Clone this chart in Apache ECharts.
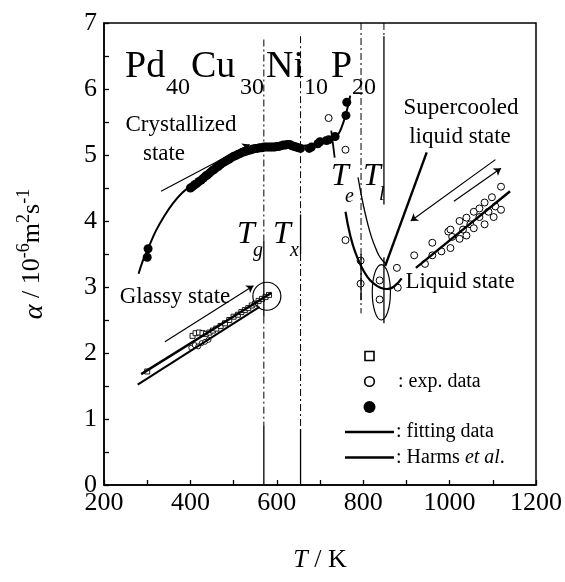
<!DOCTYPE html>
<html><head><meta charset="utf-8">
<script src="https://cdn.jsdelivr.net/npm/echarts@6/dist/echarts.min.js"></script>
<style>html,body{margin:0;padding:0;background:#fff}#c{width:565px;height:582px}</style>
</head><body><div id="c"></div>
<script>
// ---------- data ----------
const xTicks = [200, 400, 600, 800, 1000, 1200];
const yTicks = [0, 1, 2, 3, 4, 5, 6, 7];

// transition temperatures (K)
const Tg = 570, Tx = 655, Te = 795, Tl = 848;

// glassy state exp. data (open squares, open circles)
const glassySquares = [[300,1.72],[405,2.26],[412,2.30],[420,2.31],[428,2.30],[436,2.29],[444,2.31],[452,2.34],[460,2.37],[470,2.41],[480,2.45],[490,2.50],[500,2.55],[510,2.58],[518,2.62],[526,2.65],[534,2.68],[542,2.72],[550,2.75],[558,2.79],[566,2.82],[574,2.85],[582,2.88]];
const glassyCircles = [[402,2.08],[410,2.12],[418,2.10],[426,2.15],[434,2.17],[442,2.20]];

// crystallized state exp. data (filled circles)
const crystT = [300,302,400,405,410,415,420,425,430,435,440,445,450,455,460,465,470,475,480,485,490,495,500,505,510,515,520,525,530,535,540,545,550,555,560,565,570,575,580,585,590,595,600,605,610,615,620,625,630,635,640,645,650,655,675,680,695,700,715,720,735,760,762];
const crystA = [3.45,3.58,4.50,4.52,4.55,4.57,4.60,4.62,4.65,4.68,4.70,4.73,4.76,4.78,4.81,4.83,4.86,4.88,4.90,4.92,4.94,4.96,4.98,4.99,5.01,5.02,5.04,5.05,5.06,5.07,5.08,5.09,5.10,5.10,5.11,5.11,5.12,5.12,5.12,5.12,5.12,5.12,5.13,5.13,5.14,5.15,5.15,5.16,5.16,5.14,5.13,5.12,5.11,5.10,5.10,5.12,5.17,5.20,5.22,5.23,5.28,5.60,5.80];

// liquid / supercooled exp. data (open circles)
const liquidCircles = [[720,5.56],[759,5.08],[759,3.71],[794,3.40],[794,3.05],[838,3.10],[838,2.81],[878,3.29],[880,2.99],[918,3.48],[943,3.35],[960,3.67],[960,3.48],[981,3.54],[997,3.84],[1002,3.87],[1002,3.59],[1006,3.76],[1023,4.00],[1023,3.73],[1031,3.87],[1039,4.05],[1039,3.78],[1048,3.95],[1056,4.14],[1056,3.89],[1069,4.19],[1069,4.06],[1081,4.28],[1081,3.95],[1090,4.14],[1098,4.36],[1102,4.06],[1106,4.22],[1119,4.52],[1119,4.17]];

// fitting curves
const crystFit = [[280,3.20],[290,3.40],[300,3.55],[320,3.85],[340,4.08],[360,4.27],[380,4.42],[400,4.53],[420,4.64],[450,4.78],[480,4.90],[510,5.00],[540,5.07],[570,5.11],[600,5.13],[630,5.14],[660,5.14],[690,5.17],[720,5.23],[740,5.30],[750,5.42],[760,5.62],[770,5.90]];
const crystMark = [[726,5.37],[734,4.96]];
const glassFitA = [[286,1.68],[587,2.91]];
const glassFitB = [[278,1.52],[560,2.70]];
const superFitA = [[759,4.14],[770,3.78],[782,3.52],[795,3.32],[810,3.15],[825,3.05],[840,2.99],[855,2.97],[870,3.00],[889,3.13]];
const superFitB = [[788,4.66],[800,4.25],[810,3.97],[820,3.74],[830,3.57],[840,3.44],[851,3.36]];
const superLine = [[851,3.32],[947,5.04]];
const liquidFit = [[922,3.29],[1140,4.45]];

// arrows (from -> to)
const arrows = [
  [[341,2.17],[546,3.02]],
  [[332,4.45],[537,5.16]],
  [[1106,4.93],[910,4.00]],
  [[1010,4.30],[1119,4.80]]
];

// vertical marker segments
const dashSegs = [[[Tg,6.75],[Tg,3.7]],[[Tg,2.55],[Tg,0.9]],[[Tx,6.8],[Tx,4.1]],[[Tx,3.5],[Tx,0.85]],[[Te,7],[Te,2.6]],[[Tl,7],[Tl,6.8]]];
const solidSegs = [[[Tg,3.7],[Tg,2.55]],[[Tg,0.9],[Tg,0]],[[Tx,4.1],[Tx,3.5]],[[Tx,0.85],[Tx,0]],[[Te,3.5],[Te,2.8]],[[Tl,6.8],[Tl,4.25]],[[Tl,3.45],[Tl,2.45]]];

// annotation shapes in data coords
const glassCircle = {c:[577,2.86]};
const liquidEllipse = {c:[842,2.92], dT:21, dA:0.42};

// ---------- chart ----------
const FONT = '"Liberation Serif","Times New Roman",serif';
const chart = echarts.init(document.getElementById('c'), null, {renderer:'canvas'});

function joinSegs(segs){ const out=[]; segs.forEach((s,i)=>{ if(i) out.push(null); out.push(s[0], s[1]); }); return out; }
function crystData(){ return crystT.map((t,i)=>[t,crystA[i]]); }

const lineBase = {type:'line', showSymbol:false, symbol:'none', silent:true, animation:false};

chart.setOption({
  animation:false,
  backgroundColor:'#fff',
  grid:{left:104, right:29, top:23, bottom:97, show:true, borderColor:'#000', borderWidth:1.5, backgroundColor:'transparent'},
  xAxis:{
    type:'value', min:200, max:1200, interval:200,
    axisLine:{show:true, onZero:false, lineStyle:{color:'#000', width:1.5}},
    axisTick:{show:true, inside:true, length:5, lineStyle:{color:'#000', width:1.3}},
    minorTick:{show:true, splitNumber:2, length:5, lineStyle:{color:'#000', width:1.3}},
    splitLine:{show:false},
    axisLabel:{color:'#000', fontSize:26, fontFamily:FONT, margin:5, formatter:v=>String(v)},
    name:'{i|T} / K', nameLocation:'middle', nameGap:62,
    nameTextStyle:{color:'#000', fontSize:26, fontFamily:FONT, rich:{i:{fontStyle:'italic', fontSize:26, fontFamily:FONT, color:'#000'}}}
  },
  yAxis:{
    type:'value', min:0, max:7, interval:1,
    axisLine:{show:true, onZero:false, lineStyle:{color:'#000', width:1.5}},
    axisTick:{show:true, inside:true, length:5, lineStyle:{color:'#000', width:1.3}},
    minorTick:{show:true, splitNumber:2, length:5, lineStyle:{color:'#000', width:1.3}},
    splitLine:{show:false},
    axisLabel:{color:'#000', fontSize:26, fontFamily:FONT, margin:7, formatter:v=>String(v)},
    name:'{a|α} / 10{s|-6}m{s|2}s{s|-1}', nameLocation:'middle', nameRotate:90, nameGap:55,
    nameTextStyle:{color:'#000', fontSize:26, fontFamily:FONT, lineHeight:34,
      rich:{a:{fontStyle:'italic', fontSize:28, fontFamily:FONT, color:'#000', lineHeight:34, verticalAlign:'bottom'},
            s:{fontSize:18, fontFamily:FONT, color:'#000', lineHeight:34, verticalAlign:'top'}}}
  },
  series:[
    Object.assign({}, lineBase, {name:'dash', data:joinSegs(dashSegs), connectNulls:false, lineStyle:{color:'#000', width:1, type:[7,3,2,3]}}),
    Object.assign({}, lineBase, {name:'solidV', data:joinSegs(solidSegs), connectNulls:false, lineStyle:{color:'#000', width:1.3}}),
    Object.assign({}, lineBase, {name:'crystFit', data:crystFit, smooth:0.4, lineStyle:{color:'#000', width:2}}),
    Object.assign({}, lineBase, {name:'crystMark', data:crystMark, lineStyle:{color:'#000', width:1.8}}),
    Object.assign({}, lineBase, {name:'glassFitA', data:glassFitA, lineStyle:{color:'#000', width:2.4}}),
    Object.assign({}, lineBase, {name:'glassFitB', data:glassFitB, lineStyle:{color:'#000', width:2}}),
    Object.assign({}, lineBase, {name:'superFitA', data:superFitA, smooth:0.5, lineStyle:{color:'#000', width:2.2}}),
    Object.assign({}, lineBase, {name:'superFitB', data:superFitB, smooth:0.5, lineStyle:{color:'#000', width:1.3}}),
    Object.assign({}, lineBase, {name:'superLine', data:superLine, lineStyle:{color:'#000', width:2.4}}),
    Object.assign({}, lineBase, {name:'liquidFit', data:liquidFit, lineStyle:{color:'#000', width:2.4}}),
    {type:'lines', coordinateSystem:'cartesian2d', silent:true, polyline:false,
     symbol:['none','arrow'], symbolSize:7,
     lineStyle:{color:'#000', width:1.2, opacity:1},
     data:arrows.map(a=>({coords:a}))},
    {type:'scatter', name:'sq', data:glassySquares, symbol:'rect', symbolSize:5, silent:true,
     itemStyle:{color:'#fff', borderColor:'#000', borderWidth:0.9, opacity:1}},
    {type:'scatter', name:'gc', data:glassyCircles, symbol:'circle', symbolSize:5, silent:true,
     itemStyle:{color:'#fff', borderColor:'#000', borderWidth:0.9, opacity:1}},
    {type:'scatter', name:'lc', data:liquidCircles, symbol:'circle', symbolSize:7, silent:true,
     itemStyle:{color:'#fff', borderColor:'#000', borderWidth:1, opacity:1}},
    {type:'scatter', name:'cr', data:crystData(), symbol:'circle', symbolSize:9, silent:true,
     itemStyle:{color:'#000', opacity:1}}
  ]
});

// ---------- annotations ----------
function px(p){ return chart.convertToPixel({gridIndex:0}, p); }
const gc = px(glassCircle.c);
const ec = px(liquidEllipse.c);
const ex = px([liquidEllipse.c[0]+liquidEllipse.dT, liquidEllipse.c[1]+liquidEllipse.dA]);

function txt(text, x, y, size, opts){
  opts = opts || {};
  return {type:'text', x:x, y:y, silent:true, z:100,
    style:Object.assign({text:text, font:(opts.italic?'italic ':'')+size+'px '+FONT, fill:'#000',
      align:opts.align||'left', verticalAlign:'middle'}, opts.style||{})};
}

chart.setOption({graphic:[
  {type:'circle', shape:{cx:gc[0], cy:gc[1], r:14}, style:{fill:'none', stroke:'#000', lineWidth:1.2}, silent:true, z:90},
  {type:'ellipse', shape:{cx:ec[0], cy:ec[1], rx:Math.abs(ex[0]-ec[0]), ry:Math.abs(ec[1]-ex[1])}, style:{fill:'none', stroke:'#000', lineWidth:1.2}, silent:true, z:90},
  // title
  txt('Pd', 125, 67, 38), txt('40', 166, 88, 24),
  txt('Cu', 191, 67, 38), txt('30', 240, 88, 24),
  txt('Ni', 266, 67, 38), txt('10', 304, 88, 24),
  txt('P', 331, 67, 38), txt('20', 352, 88, 24),
  // state labels
  txt('Crystallized', 181, 125, 23, {align:'center'}),
  txt('state', 164, 154, 23, {align:'center'}),
  txt('Supercooled', 461, 108, 23, {align:'center'}),
  txt('liquid state', 460, 137, 23, {align:'center'}),
  txt('Liquid state', 460, 282, 23, {align:'center'}),
  txt('Glassy state', 175, 297, 23, {align:'center'}),
  // temperature labels
  txt('T', 237, 235, 32, {italic:true}), txt('g', 253, 251, 20, {italic:true}),
  txt('T', 273, 235, 32, {italic:true}), txt('x', 290, 251, 20, {italic:true}),
  txt('T', 331, 177, 32, {italic:true}), txt('e', 345, 197, 20, {italic:true}),
  txt('T', 363, 177, 32, {italic:true}), txt('l', 379, 195, 20, {italic:true}),
  // legend
  {type:'rect', shape:{x:365, y:351.5, width:9, height:9}, style:{fill:'#fff', stroke:'#000', lineWidth:1.6}, silent:true, z:100},
  {type:'circle', shape:{cx:369.5, cy:381.5, r:4.8}, style:{fill:'#fff', stroke:'#000', lineWidth:1.6}, silent:true, z:100},
  {type:'circle', shape:{cx:369.5, cy:407, r:6}, style:{fill:'#000'}, silent:true, z:100},
  {type:'line', shape:{x1:345, y1:432, x2:394, y2:432}, style:{stroke:'#000', lineWidth:2.4}, silent:true, z:100},
  {type:'line', shape:{x1:345, y1:457.5, x2:394, y2:457.5}, style:{stroke:'#000', lineWidth:2.4}, silent:true, z:100},
  txt(': exp. data', 398, 382, 20),
  txt(': fitting data', 396, 432, 20),
  {type:'text', x:396, y:457.5, silent:true, z:100,
   style:{text:': Harms {i|et al}.', font:'20px '+FONT, fill:'#000', verticalAlign:'middle',
          rich:{i:{font:'italic 20px '+FONT, fill:'#000'}}}}
]});
</script></body></html>
